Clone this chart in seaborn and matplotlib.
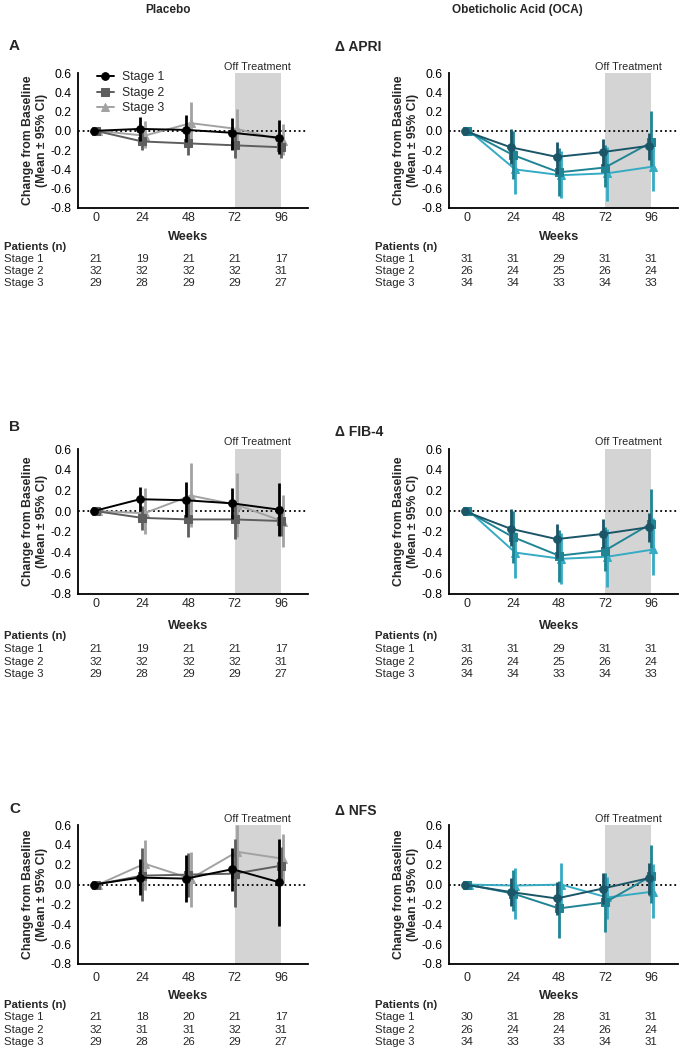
import numpy as np
import pandas as pd
import matplotlib
matplotlib.use("Agg")
import matplotlib.pyplot as plt
import seaborn as sns
from matplotlib.transforms import blended_transform_factory as btf

sns.set_style("white")
plt.rcParams["font.family"] = ["Liberation Sans", "DejaVu Sans"]

weeks = [0, 24, 48, 72, 96]
stages = ["Stage 1", "Stage 2", "Stage 3"]
yticks = [-0.8, -0.6, -0.4, -0.2, 0.0, 0.2, 0.4, 0.6]

# ---- APRI ----
apri_pbo_mean = [[0, 0.02, 0.01, -0.02, -0.07], [0, -0.11, -0.13, -0.15, -0.17], [0, -0.05, 0.08, 0.02, -0.10]]
apri_pbo_lo = [[0, -0.10, -0.12, -0.20, -0.24], [0, -0.20, -0.25, -0.28, -0.28], [0, -0.18, -0.10, -0.18, -0.25]]
apri_pbo_hi = [[0, 0.14, 0.16, 0.13, 0.11], [0, 0.02, 0.00, -0.02, -0.06], [0, 0.10, 0.30, 0.23, 0.07]]
apri_oca_mean = [[0, -0.17, -0.27, -0.22, -0.155], [0, -0.25, -0.43, -0.38, -0.12], [0, -0.40, -0.46, -0.44, -0.37]]
apri_oca_lo = [[0, -0.34, -0.45, -0.36, -0.30], [0, -0.50, -0.68, -0.58, -0.36], [0, -0.65, -0.70, -0.73, -0.62]]
apri_oca_hi = [[0, 0.02, -0.12, -0.08, -0.02], [0, 0.00, -0.18, -0.15, 0.21], [0, -0.20, -0.21, -0.17, -0.07]]
# ---- FIB-4 ----
fib4_pbo_mean = [[0, 0.115, 0.105, 0.075, 0.015], [0, -0.065, -0.08, -0.08, -0.095], [0, -0.02, 0.15, 0.06, -0.10]]
fib4_pbo_lo = [[0, 0.00, -0.06, -0.08, -0.24], [0, -0.18, -0.25, -0.27, -0.24], [0, -0.22, -0.15, -0.25, -0.35]]
fib4_pbo_hi = [[0, 0.23, 0.28, 0.225, 0.27], [0, 0.05, 0.10, 0.10, 0.05], [0, 0.22, 0.46, 0.37, 0.16]]
fib4_oca_mean = [[0, -0.17, -0.27, -0.22, -0.155], [0, -0.25, -0.43, -0.38, -0.12], [0, -0.40, -0.46, -0.44, -0.37]]
fib4_oca_lo = [[0, -0.34, -0.45, -0.36, -0.30], [0, -0.50, -0.68, -0.58, -0.36], [0, -0.65, -0.70, -0.73, -0.62]]
fib4_oca_hi = [[0, 0.02, -0.12, -0.08, -0.02], [0, 0.00, -0.18, -0.15, 0.21], [0, -0.20, -0.21, -0.17, -0.07]]
# ---- NFS ----
nfs_pbo_mean = [[0, 0.07, 0.06, 0.155, 0.025], [0, 0.09, 0.10, 0.11, 0.19], [0, 0.21, 0.06, 0.33, 0.26]]
nfs_pbo_lo = [[0, -0.11, -0.18, -0.06, -0.42], [0, -0.17, -0.13, -0.23, 0.00], [0, -0.05, -0.23, 0.06, 0.00]]
nfs_pbo_hi = [[0, 0.26, 0.30, 0.37, 0.46], [0, 0.37, 0.32, 0.46, 0.38], [0, 0.45, 0.33, 0.60, 0.51]]
nfs_oca_mean = [[0, -0.075, -0.14, -0.04, 0.065], [0, -0.09, -0.24, -0.18, 0.085], [0, -0.01, 0.00, -0.13, -0.07]]
nfs_oca_lo = [[0, -0.22, -0.31, -0.20, -0.10], [0, -0.27, -0.54, -0.48, -0.19], [0, -0.35, -0.20, -0.35, -0.34]]
nfs_oca_hi = [[0, 0.07, 0.03, 0.12, 0.22], [0, 0.15, 0.04, 0.12, 0.40], [0, 0.17, 0.22, 0.08, 0.21]]

# ---- Patients (n) ----
n_apri_pbo = [[21, 19, 21, 21, 17], [32, 32, 32, 32, 31], [29, 28, 29, 29, 27]]
n_apri_oca = [[31, 31, 29, 31, 31], [26, 24, 25, 26, 24], [34, 34, 33, 34, 33]]
n_fib4_pbo = [[21, 19, 21, 21, 17], [32, 32, 32, 32, 31], [29, 28, 29, 29, 27]]
n_fib4_oca = [[31, 31, 29, 31, 31], [26, 24, 25, 26, 24], [34, 34, 33, 34, 33]]
n_nfs_pbo = [[21, 18, 20, 21, 17], [32, 31, 31, 32, 31], [29, 28, 26, 29, 27]]
n_nfs_oca = [[30, 31, 28, 31, 31], [26, 24, 24, 26, 24], [34, 33, 33, 34, 31]]

pbo_colors = ["#000000", "#5e5e5e", "#a2a2a2"]
oca_colors = ["#1b5568", "#1f8595", "#35abc4"]
markers = ["o", "s", "^"]
offsets = [-1.2, 0.0, 1.2]

W, H = 690, 1050
fig = plt.figure(figsize=(6.9, 10.5), dpi=100)


def add_ax(l, r, t, b):
    return fig.add_axes([l / W, 1 - b / H, (r - l) / W, (b - t) / H])


def draw_panel(ax, mean, lo, hi, ncounts, colors, tick_y, weeks_y, rows_y, lab_x, legend=False):
    ax.axvspan(72, 96, color="#d4d4d4", lw=0, zorder=0)
    ax.axhline(0, color="black", ls=(0, (1.0, 1.6)), lw=1.3, zorder=1)
    for i in range(3):
        df = pd.DataFrame({"x": [w + offsets[i] for w in weeks], "mean": mean[i],
                           "lo": lo[i], "hi": hi[i]})
        z = 5 - i
        ax.vlines(df["x"], df["lo"], df["hi"], color=colors[i], lw=2.0, zorder=z)
        sns.lineplot(data=df, x="x", y="mean", ax=ax, color=colors[i], marker=markers[i],
                     markersize=5.5, markeredgecolor=colors[i], lw=1.4, zorder=z,
                     label=stages[i], legend=False)
    ax.set_xlim(-9.3, 110)
    ax.set_ylim(-0.8, 0.6)
    ax.set_xticks(weeks)
    ax.set_yticks(yticks)
    ax.set_yticklabels([f"{v:.1f}" for v in yticks])
    ax.set_xlabel("")
    ax.set_ylabel("Change from Baseline\n(Mean \u00b1 95% CI)", fontsize=8.8,
                  fontweight="bold", labelpad=2)
    for s in ["top", "right"]:
        ax.spines[s].set_visible(False)
    for s in ["left", "bottom"]:
        ax.spines[s].set_linewidth(1.3)
        ax.spines[s].set_color("black")
    ax.tick_params(axis="both", direction="out", length=3, width=1.1, labelsize=8.8,
                   pad=1.5, colors="black")
    ax.xaxis.set_tick_params(labelbottom=False)
    tr = btf(ax.transData, fig.transFigure)
    for w in weeks:
        fig.text(w, 1 - tick_y / H, str(w), transform=tr, ha="center", va="center", fontsize=9)
    fig.text(48, 1 - weeks_y / H, "Weeks", transform=tr, ha="center", va="center",
             fontsize=9.2, fontweight="bold")
    ax.text(84, 0.615, "Off Treatment", ha="center", va="bottom", fontsize=7.8)
    fig.text(lab_x / W, 1 - rows_y[0] / H, "Patients (n)", ha="left", va="center",
             fontsize=8.2, fontweight="bold")
    for i in range(3):
        fig.text(lab_x / W, 1 - rows_y[i + 1] / H, stages[i], ha="left", va="center", fontsize=8.2)
        for j, w in enumerate(weeks):
            fig.text(w, 1 - rows_y[i + 1] / H, str(ncounts[i][j]), transform=tr,
                     ha="center", va="center", fontsize=8.2)
    if legend:
        ax.legend(loc="upper left", bbox_to_anchor=(0.06, 1.05), frameon=False, fontsize=8.8,
                  handlelength=1.4, handletextpad=0.65, labelspacing=0.3, borderaxespad=0)


# headers
fig.text(168 / W, 1 - 10 / H, "Placebo", ha="center", va="center", fontsize=8.5, fontweight="bold")
fig.text(517 / W, 1 - 10 / H, "Obeticholic Acid (OCA)", ha="center", va="center",
         fontsize=8.5, fontweight="bold")

panels = [
    ("A", "\u0394 APRI", 45, 47, (73, 208), (apri_pbo_mean, apri_pbo_lo, apri_pbo_hi, n_apri_pbo),
     (apri_oca_mean, apri_oca_lo, apri_oca_hi, n_apri_oca), 218, 237, [247, 259, 271, 283]),
    ("B", "\u0394 FIB-4", 426, 432, (449, 594), (fib4_pbo_mean, fib4_pbo_lo, fib4_pbo_hi, n_fib4_pbo),
     (fib4_oca_mean, fib4_oca_lo, fib4_oca_hi, n_fib4_oca), 604, 626, [636, 649, 662, 674]),
    ("C", "\u0394 NFS", 808, 811, (825, 964), (nfs_pbo_mean, nfs_pbo_lo, nfs_pbo_hi, n_nfs_pbo),
     (nfs_oca_mean, nfs_oca_lo, nfs_oca_hi, n_nfs_oca), 978, 996, [1005, 1017, 1030, 1042]),
]

for k, (letter, title, ly, ty, (t, b), pbo, oca, tick_y, weeks_y, rows_y) in enumerate(panels):
    fig.text(9 / W, 1 - (ly + 1) / H, letter, ha="left", va="center", fontsize=11, fontweight="bold")
    fig.text(335 / W, 1 - ty / H, title, ha="left", va="center", fontsize=10, fontweight="bold")
    ax1 = add_ax(78, 308, t, b)
    draw_panel(ax1, *pbo, pbo_colors, tick_y, weeks_y, rows_y, 4, legend=(k == 0))
    ax2 = add_ax(449, 678, t, b)
    draw_panel(ax2, *oca, oca_colors, tick_y, weeks_y, rows_y, 375)

fig.savefig("out.png", dpi=100, facecolor="white")
